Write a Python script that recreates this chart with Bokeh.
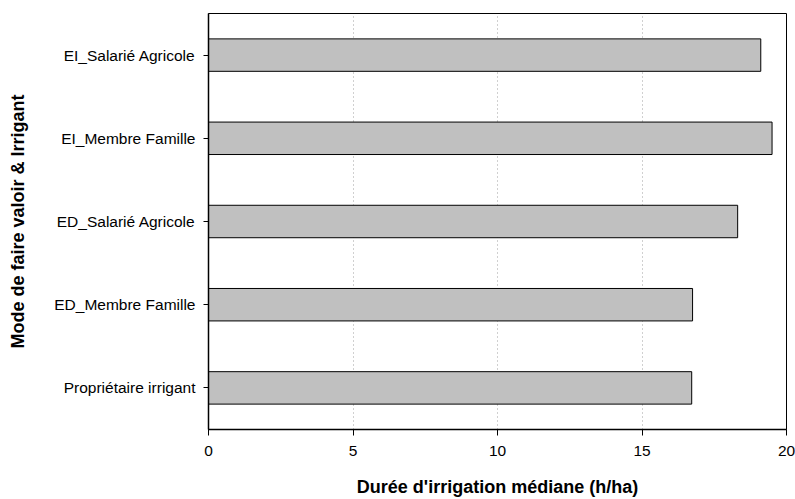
from bokeh.plotting import figure
from bokeh.models import Range1d, FactorRange, FixedTicker, ColumnDataSource
from bokeh.embed import file_html
from bokeh.resources import INLINE

categories = ["Propriétaire irrigant", "ED_Membre Famille", "ED_Salarié Agricole",
              "EI_Membre Famille", "EI_Salarié Agricole"]
values = [16.72, 16.75, 18.31, 19.5, 19.11]
x_ticks = [0, 5, 10, 15, 20]

src = ColumnDataSource(dict(cat=categories, val=values))

p = figure(width=795, height=499, output_backend="svg", toolbar_location=None,
           y_range=FactorRange(*categories, range_padding=0),
           x_range=Range1d(0, 20),
           min_border_left=208, min_border_right=9, min_border_top=13, min_border_bottom=67)

p.hbar(y="cat", left=0, right="val", height=0.39, source=src,
       fill_color="#c0c0c0", line_color="black", line_width=1)

font = "Liberation Sans"
p.xaxis.ticker = FixedTicker(ticks=x_ticks)
p.xaxis.minor_tick_line_color = None
p.xaxis.axis_label = "Durée d'irrigation médiane (h/ha)"
p.yaxis.axis_label = "Mode de faire valoir & Irrigant"
for ax in (p.xaxis[0], p.yaxis[0]):
    ax.axis_label_text_font = font
    ax.axis_label_text_font_style = "bold"
    ax.axis_label_text_font_size = "18px"
    ax.axis_label_text_color = "black"
    ax.major_label_text_font = font
    ax.major_label_text_font_size = "15.5px"
    ax.major_label_text_color = "black"
    ax.axis_line_color = "black"
    ax.axis_line_width = 1.5
    ax.major_tick_line_color = "black"
    ax.major_tick_in = 0
    ax.major_tick_out = 6
ax = p.xaxis[0]
ax.major_label_standoff = 10
ax.axis_label_standoff = 18
ay = p.yaxis[0]
ay.major_tick_out = 5
ay.major_label_standoff = 8
ay.axis_label_standoff = 23

p.ygrid.grid_line_color = None
p.xgrid.ticker = FixedTicker(ticks=[5, 10, 15])
p.xgrid.grid_line_color = "#a0a0a0"
p.xgrid.grid_line_dash = "1 3"
p.xgrid.grid_line_width = 1

p.outline_line_color = "black"
p.outline_line_width = 1
p.background_fill_color = "white"
p.border_fill_color = "white"

open("out.html", "w").write(file_html(p, INLINE))
